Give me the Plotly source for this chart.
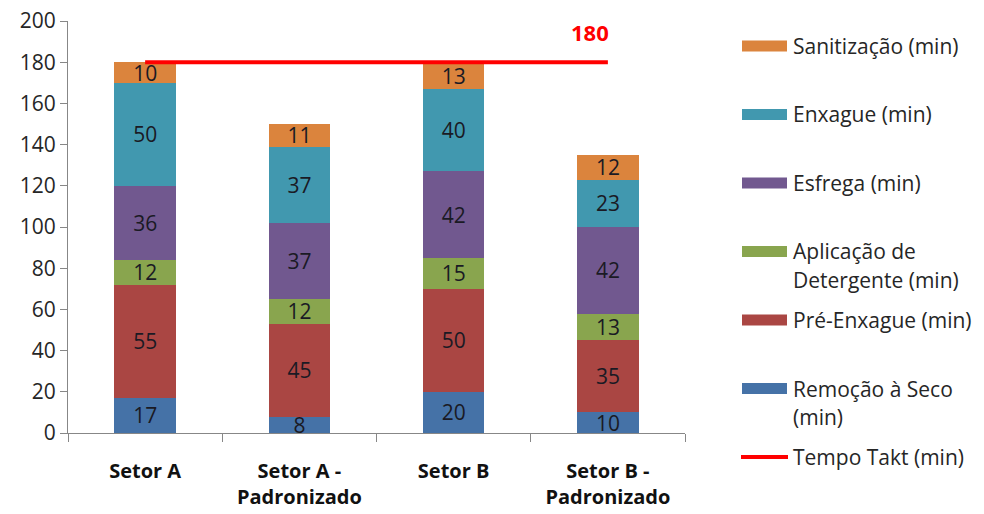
import plotly.graph_objects as go

categories = ["Setor A", "Setor A -<br>Padronizado", "Setor B", "Setor B -<br>Padronizado"]

series_names = [
    "Remoção à Seco (min)",
    "Pré-Enxague (min)",
    "Aplicação de Detergente (min)",
    "Esfrega (min)",
    "Enxague (min)",
    "Sanitização (min)",
]
legend_labels = [
    "Remoção à Seco\n(min)",
    "Pré-Enxague (min)",
    "Aplicação de\nDetergente (min)",
    "Esfrega (min)",
    "Enxague (min)",
    "Sanitização (min)",
]
remocao = [17, 8, 20, 10]
pre_enxague = [55, 45, 50, 35]
aplicacao = [12, 12, 15, 13]
esfrega = [36, 37, 42, 42]
enxague = [50, 37, 40, 23]
sanitizacao = [10, 11, 13, 12]
series_values = [remocao, pre_enxague, aplicacao, esfrega, enxague, sanitizacao]
colors = ["#4572A7", "#AA4643", "#89A54E", "#71588F", "#4198AF", "#DB843D"]

takt_name = "Tempo Takt (min)"
takt_value = 180
takt_x = [categories[0], categories[-1]]
takt_y = [takt_value, takt_value]

FONT = "'Open Sans', 'Noto Sans', sans-serif"
TXT = "#262626"

fig = go.Figure()
for name, vals, col in zip(series_names, series_values, colors):
    fig.add_trace(go.Bar(
        x=categories, y=vals, name=name, marker=dict(color=col, line=dict(width=0)),
        text=[str(v) for v in vals], textposition="inside", insidetextanchor="middle",
        constraintext="none", textangle=0,
        textfont=dict(family=FONT, size=21, color="#1a1a24"),
        showlegend=False, hoverinfo="y+name",
    ))

fig.add_trace(go.Scatter(
    x=takt_x, y=takt_y, mode="lines", name=takt_name,
    line=dict(color="#FF0000", width=4), showlegend=False,
))

fig.add_annotation(
    x=takt_x[-1], y=takt_y[-1], xref="x", yref="y", text="<b>%d</b>" % takt_value,
    showarrow=False, xanchor="right", yanchor="bottom", yshift=13, xshift=3,
    font=dict(family=FONT, size=22, color="#FF0000"),
)

# Manual legend (top-down order as in reference)
L, R, T, B = 68, 299, 21, 81
W, H = 984, 514
pw, ph = W - L - R, H - T - B

def px_to_paper(px, py):
    return (px - L) / pw, (H - B - py) / ph

legend_items = [(legend_labels[i], colors[i], "bar") for i in range(5, -1, -1)] + [(takt_name, "#FF0000", "line")]
for i, (label, col, kind) in enumerate(legend_items):
    cy = 46 + 68.5 * i
    if kind == "bar":
        x0, y0 = px_to_paper(742, cy - 5.5)
        x1, y1 = px_to_paper(787, cy + 5.5)
        fig.add_shape(type="rect", xref="paper", yref="paper", x0=x0, x1=x1, y0=y1, y1=y0,
                      fillcolor=col, line=dict(width=0))
    else:
        x0, y0 = px_to_paper(741, cy)
        x1, _ = px_to_paper(788, cy)
        fig.add_shape(type="line", xref="paper", yref="paper", x0=x0, x1=x1, y0=y0, y1=y0,
                      line=dict(color=col, width=4))
    for j, line in enumerate(label.split("\n")):
        tx, ty = px_to_paper(791, cy + 28 * j)
        fig.add_annotation(xref="paper", yref="paper", x=tx, y=ty, text=line, showarrow=False,
                           xanchor="left", yanchor="middle",
                           font=dict(family=FONT, size=21, color=TXT))

fig.update_layout(
    barmode="stack", bargap=0.6,
    width=W, height=H,
    margin=dict(l=L, r=R, t=T, b=B, autoexpand=False),
    paper_bgcolor="white", plot_bgcolor="white",
    font=dict(family=FONT, size=20, color=TXT),
)
fig.update_yaxes(
    range=[0, 200], dtick=20, showgrid=False, zeroline=False, automargin=False,
    showline=True, linecolor="#878787", linewidth=1,
    ticks="outside", ticklen=7, tickcolor="#878787",
    tickfont=dict(family=FONT, size=21, color=TXT),
)
fig.update_xaxes(
    showgrid=False, showline=True, linecolor="#878787", linewidth=1, automargin=False,
    ticks="outside", ticklen=8, tickcolor="#878787", tickson="boundaries",
    ticklabelstandoff=20,
    tickfont=dict(family=FONT, size=20, color="#111111", weight="bold"),
)

fig.write_html("out.html")
